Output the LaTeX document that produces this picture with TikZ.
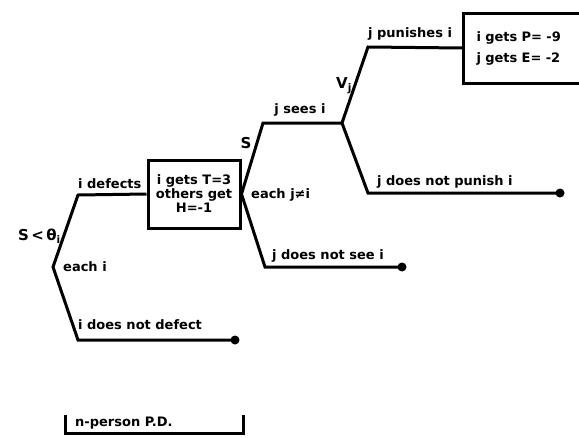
\documentclass[tikz,border=0pt]{standalone}
\usepackage{fontspec}
\setmainfont{DejaVu Sans}

\begin{document}
\begin{tikzpicture}[
    x=1pt, y=-1pt,
    branch/.style={line width=3pt, line join=miter},
    payoff/.style={rectangle, draw=black, line width=3pt, font=\fontsize{13}{21}\selectfont\bfseries},
    endpt/.style={circle, fill=black, inner sep=0pt, minimum size=9pt},
    lbl/.style={font=\fontsize{13}{15}\selectfont\bfseries, inner sep=0pt}
]
\useasboundingbox (0,0) rectangle (579,437);

% Branch points
\coordinate (root) at (53,267);
\coordinate (def) at (78,195);
\coordinate (nodef) at (78,340);
\coordinate (sees) at (263,123);
\coordinate (vj) at (342,123);
\coordinate (nosee) at (265,267);
\coordinate (pun) at (368,47);
\coordinate (nopun) at (368,193);

% Payoffs and ends
\node [payoff, minimum width=92pt, minimum height=68pt, inner sep=0pt, align=center] (tbox) at (194,194) {i gets T=3\\[-7pt]others get\\[-7pt]H=-1};
\node [payoff, draw=none, anchor=west, text width=93pt, inner xsep=12pt, minimum height=67pt, align=left] (pbox) at (463,48) {i gets P= -9\\j gets E= -2};
\draw [branch] (pbox.north east) -- (pbox.north west) -- (pbox.south west) -- (pbox.south east);
\node [endpt] (enddef) at (235,340) {};
\node [endpt] (endsee) at (402,267) {};
\node [endpt] (endpun) at (560,193) {};

% Branches
\draw [branch] (tbox.west) -- (def) -- (root) -- (nodef) -- (enddef.center);
\draw [branch] (endsee.center) -- (nosee) -- (tbox.east) -- (sees) -- (vj);
\draw [branch] (pbox.west) -- (pun) -- (vj) -- (nopun) -- (endpun.center);

% Labels
\node [lbl, font=\fontsize{15}{17}\selectfont\bfseries, anchor=east] (slbl) at (61,236) {S\,<\,θ\textsubscript{i}};
\node [lbl, anchor=west] (eachi) at (63,267) {each i};
\node [lbl, anchor=west] (idef) at (78,184) {i defects};
\node [lbl, anchor=west] (inodef) at (78,325) {i does not defect};
\node [lbl, font=\fontsize{15}{17}\selectfont\bfseries] (slbl2) at (246,143) {S};
\node [lbl, anchor=west] (eachj) at (251,195) {each j≠i};
\node [lbl] (seesi) at (300,110) {j sees i};
\node [lbl, anchor=west] (noseei) at (272,256) {j does not see i};
\node [lbl, font=\fontsize{15}{17}\selectfont\bfseries] (vlbl) at (344,86) {V\textsubscript{j}};
\node [lbl, anchor=west] (puni) at (368,34) {j punishes i};
\node [lbl, anchor=west] (nopuni) at (377,182) {j does not punish i};

% Game name
\node [lbl, anchor=west] (game) at (75,423) {n-person P.D.};
\draw [branch] (65,415) -- (65,433) -- (243,433) -- (243,415);
\end{tikzpicture}
\end{document}
